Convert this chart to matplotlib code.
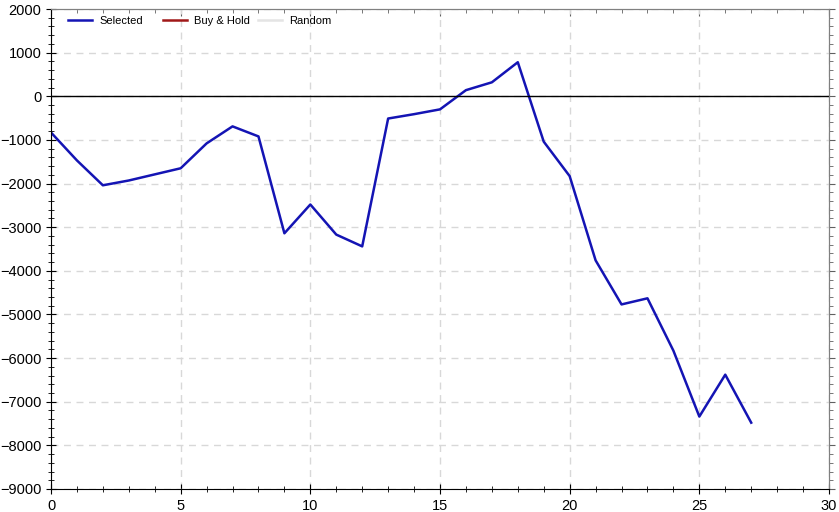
import matplotlib.pyplot as plt
from matplotlib.ticker import MultipleLocator, NullFormatter
from matplotlib.lines import Line2D
from matplotlib.legend import Legend

# Data
trades = list(range(28))
selected = [-830, -1470, -2040, -1930, -1790, -1650, -1080, -690, -920, -3140,
            -2480, -3170, -3440, -510, -410, -300, 140, 320, 780, -1040,
            -1830, -3760, -4770, -4630, -5830, -7340, -6380, -7480]
buy_hold = []
random_line = []

labels = ["Selected", "Buy & Hold", "Random"]
colors = ["#1414b4", "#a01818", "#e4e4e4"]

plt.rcParams["font.family"] = ["Liberation Sans", "DejaVu Sans"]

fig = plt.figure(figsize=(8.39, 5.12), dpi=100)
ax = fig.add_axes([51 / 839, 1 - 489 / 512, 778 / 839, 480 / 512])

ax.plot(trades, selected, color=colors[0], lw=1.8)
ax.plot(buy_hold, buy_hold, color=colors[1], lw=1.6)
ax.plot(random_line, random_line, color=colors[2], lw=1.6)

ax.axhline(0, color="black", lw=1)

ax.set_xlim(0, 30)
ax.set_ylim(-9000, 2000)
ax.xaxis.set_major_locator(MultipleLocator(5))
ax.xaxis.set_minor_locator(MultipleLocator(1))
ax.yaxis.set_major_locator(MultipleLocator(1000))
ax.yaxis.set_minor_locator(MultipleLocator(200))

ax.grid(True, which="major", color="#d8d8d8", ls=(0, (5, 4)), lw=1)
ax.tick_params(which="both", direction="inout", labelsize=10.5, colors="black")
ax.tick_params(which="major", length=7)
ax.tick_params(which="minor", length=5)
ax.spines["left"].set_color("black")
ax.spines["bottom"].set_color("black")
ax.spines["top"].set_color("#808080")
ax.spines["right"].set_color("#808080")

# top and right: small unlabeled ticks
top = ax.secondary_xaxis("top")
top.xaxis.set_major_locator(MultipleLocator(5))
top.xaxis.set_minor_locator(MultipleLocator(1))
top.xaxis.set_major_formatter(NullFormatter())
top.tick_params(which="both", direction="in", color="#606060")
top.tick_params(which="major", length=5)
top.tick_params(which="minor", length=3)
top.spines["top"].set_color("#808080")

right = ax.secondary_yaxis("right")
right.yaxis.set_major_locator(MultipleLocator(1000))
right.yaxis.set_minor_locator(MultipleLocator(200))
right.yaxis.set_major_formatter(NullFormatter())
right.tick_params(which="both", direction="out", color="#606060")
right.tick_params(which="major", length=4)
right.tick_params(which="minor", length=3)
right.spines["right"].set_color("#808080")

# legend: three equally spaced entries along the top
for i, (lab, c) in enumerate(zip(labels, colors)):
    h = Line2D([], [], color=c, lw=1.8)
    leg = Legend(ax, [h], [lab], loc="upper left", frameon=False, fontsize=8,
                 handlelength=2.2, handletextpad=0.6, borderaxespad=0,
                 bbox_to_anchor=(0.0162 + i * 95 / 778, 0.995))
    ax.add_artist(leg)

fig.savefig("out.png", dpi=100)
